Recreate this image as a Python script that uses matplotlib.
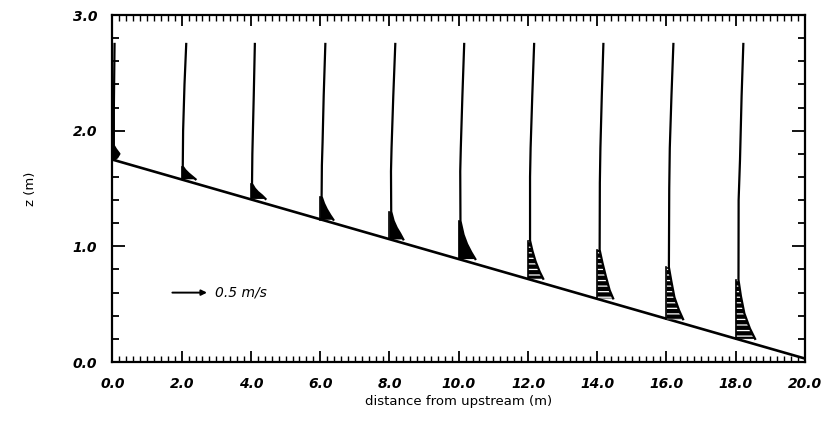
import numpy as np
import matplotlib
matplotlib.use("Agg")
import matplotlib.pyplot as plt
from matplotlib.patches import Polygon
from matplotlib.ticker import MultipleLocator, FormatStrFormatter

# sloping bed, distance (m) vs height (m)
bed_x = [0.0, 20.0]
bed_z = [1.75, 0.03]

# measuring stations along the channel
stations = [0.0, 2.0, 4.0, 6.0, 8.0, 10.0, 12.0, 14.0, 16.0, 18.0]

# velocity profiles: height z (m) and velocity u (m/s), bed to top
profile_z = [
    [1.75, 1.77, 1.80, 1.84, 1.87, 2.20, 2.75],
    [1.58, 1.60, 1.63, 1.66, 1.69, 2.00, 2.40, 2.75],
    [1.41, 1.44, 1.47, 1.50, 1.54, 1.80, 2.30, 2.75],
    [1.23, 1.27, 1.32, 1.37, 1.43, 1.70, 1.90, 2.30, 2.75],
    [1.06, 1.11, 1.16, 1.22, 1.30, 1.65, 1.85, 2.30, 2.75],
    [0.89, 0.95, 1.02, 1.10, 1.22, 1.65, 1.85, 2.30, 2.75],
    [0.72, 0.78, 0.87, 0.96, 1.05, 1.60, 1.85, 2.30, 2.75],
    [0.55, 0.62, 0.74, 0.86, 0.97, 1.55, 1.85, 2.30, 2.75],
    [0.37, 0.45, 0.56, 0.70, 0.82, 1.50, 1.85, 2.30, 2.75],
    [0.20, 0.29, 0.42, 0.57, 0.71, 1.40, 1.75, 2.30, 2.75],
]
profile_u = [
    [0.03, 0.07, 0.10, 0.05, 0.02, 0.02, 0.03],
    [0.20, 0.16, 0.10, 0.05, 0.015, 0.02, 0.04, 0.065],
    [0.21, 0.16, 0.10, 0.055, 0.015, 0.02, 0.04, 0.056],
    [0.19, 0.145, 0.095, 0.055, 0.02, 0.024, 0.034, 0.05, 0.074],
    [0.20, 0.155, 0.105, 0.06, 0.025, 0.022, 0.03, 0.055, 0.084],
    [0.24, 0.18, 0.12, 0.07, 0.025, 0.022, 0.03, 0.053, 0.079],
    [0.22, 0.17, 0.11, 0.065, 0.03, 0.03, 0.038, 0.062, 0.089],
    [0.23, 0.18, 0.125, 0.075, 0.035, 0.038, 0.046, 0.066, 0.089],
    [0.24, 0.18, 0.115, 0.07, 0.035, 0.04, 0.048, 0.072, 0.10],
    [0.28, 0.205, 0.125, 0.075, 0.04, 0.042, 0.062, 0.085, 0.11],
]
# top of the near-bed current layer at each station (m)
current_top = [1.87, 1.69, 1.54, 1.43, 1.30, 1.22, 1.05, 0.97, 0.82, 0.71]

VSCALE = 2.0   # metres of plot per m/s
REF_SPEED = 0.5

plt.rcParams["font.family"] = ["DejaVu Sans"]
plt.rcParams["hatch.color"] = "white"
plt.rcParams["hatch.linewidth"] = 0.9

fig = plt.figure(figsize=(8.24, 4.21), dpi=100)
ax = fig.add_axes([0.1365, 0.1401, 0.8404, 0.8242])

ax.plot(bed_x, bed_z, color="black", lw=1.9, solid_capstyle="butt")

for i, x0 in enumerate(stations):
    z = np.array(profile_z[i])
    u = np.array(profile_u[i])
    xt = x0 + u * VSCALE
    inside = z <= current_top[i] + 1e-9
    zb, xb = z[inside], xt[inside]
    verts = [(x0, zb[0])] + list(zip(xb, zb)) + [(x0, zb[-1])]
    hatch = "---" if x0 >= 12 else None
    ax.add_patch(Polygon(verts, closed=True, facecolor="black", edgecolor=None,
                         linewidth=0, hatch=hatch, zorder=3))
    ax.plot([x0, x0], [zb[0], zb[-1]], color="black", lw=1.2, zorder=4)
    ax.plot(xt, z, color="black", lw=1.6, zorder=4)

# reference arrow
ax.annotate("", xy=(1.73 + REF_SPEED * VSCALE, 0.60), xytext=(1.73, 0.60),
            arrowprops=dict(arrowstyle="-|>", lw=1.4, color="black", mutation_scale=8,
                            shrinkA=0, shrinkB=0))
ax.text(2.97, 0.60, f"{REF_SPEED} m/s", fontsize=10, style="italic", va="center", ha="left")

ax.set_xlim(0, 20)
ax.set_ylim(0, 3)
ax.xaxis.set_major_locator(MultipleLocator(2))
ax.xaxis.set_minor_locator(MultipleLocator(0.2))
ax.yaxis.set_major_locator(MultipleLocator(1))
ax.yaxis.set_minor_locator(MultipleLocator(0.2))
ax.xaxis.set_major_formatter(FormatStrFormatter("%.1f"))
ax.yaxis.set_major_formatter(FormatStrFormatter("%.1f"))
ax.tick_params(which="both", direction="in", top=True, right=True, width=1.3, pad=11)
ax.tick_params(axis="x", which="major", length=8)
ax.tick_params(axis="x", which="minor", length=4, width=1.0)
ax.tick_params(axis="y", which="major", length=9.5)
ax.tick_params(axis="y", which="minor", length=5)
for lab in ax.get_xticklabels() + ax.get_yticklabels():
    lab.set_fontsize(10)
    lab.set_fontstyle("italic")
    lab.set_fontweight("bold")
for s in ax.spines.values():
    s.set_linewidth(1.6)

ax.set_xlabel("distance from upstream (m)", fontsize=9.5)
ax.set_ylabel("z (m)", fontsize=9.5)
ax.xaxis.set_label_coords(0.5, -0.095)
ax.yaxis.set_label_coords(-0.109, 0.5)

fig.savefig("out.png", dpi=100)
